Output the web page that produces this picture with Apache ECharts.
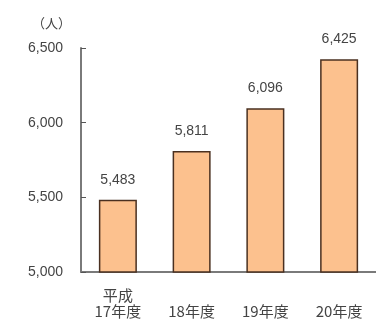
<!DOCTYPE html>
<html><head><meta charset="utf-8">
<script src="https://cdn.jsdelivr.net/npm/echarts@6/dist/echarts.min.js"></script>
<style>html,body{margin:0;padding:0;background:#fff}#c{width:376px;height:327px}</style>
</head><body><div id="c"></div>
<script>
const categories = ['平成\n17年度', '18年度', '19年度', '20年度'];
const values = [5483, 5811, 6096, 6425];
const yTicks = [5000, 5500, 6000, 6500];
const fmt = v => String(v).replace(/\B(?=(\d{3})+(?!\d))/g, ',');
const chart = echarts.init(document.getElementById('c'));
chart.setOption({
  animation: false,
  grid: {left: 81, right: -5, top: 48, bottom: 55},
  xAxis: {
    type: 'category', data: categories,
    axisLine: {lineStyle: {color: '#7a7a7a', width: 2}},
    axisTick: {inside: true, length: 4, lineStyle: {color: '#555'}},
    axisLabel: {
      color: '#444', fontSize: 15, fontFamily: 'Noto Sans CJK JP', margin: 15, lineHeight: 16,
      formatter: v => v.indexOf('\n') >= 0 ? v : '\n' + v
    }
  },
  yAxis: {
    type: 'value', min: yTicks[0], max: yTicks[yTicks.length - 1], interval: 500,
    name: '（人）', nameLocation: 'end', nameGap: 18,
    nameTextStyle: {color: '#444', fontSize: 13, fontFamily: 'Noto Sans CJK JP', align: 'right', padding: [0, 10, 0, 0]},
    axisLine: {show: true, lineStyle: {color: '#7a7a7a', width: 2}},
    axisTick: {show: true, inside: true, length: 5, lineStyle: {color: '#555'}},
    splitLine: {show: false},
    axisLabel: {color: '#444', fontSize: 14, fontFamily: 'Liberation Sans', margin: 18, formatter: fmt}
  },
  series: [{
    type: 'bar', data: values, barWidth: 38,
    itemStyle: {color: '#FCC18E', borderColor: '#4a3020', borderWidth: 1.5},
    label: {show: true, position: 'top', distance: 13, color: '#444', fontSize: 14, fontFamily: 'Liberation Sans', formatter: p => fmt(p.value)}
  }]
});
</script></body></html>
